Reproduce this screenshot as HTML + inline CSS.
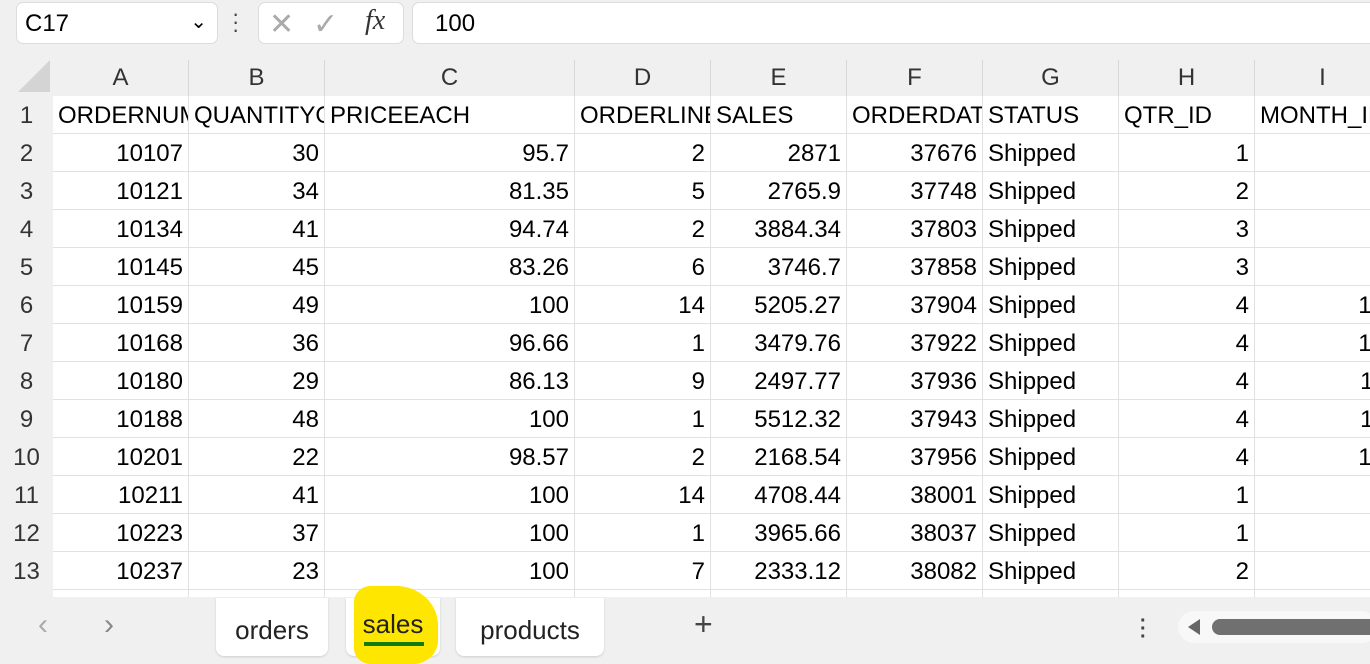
<!DOCTYPE html>
<html><head><meta charset="utf-8"><style>
body{margin:0;width:1370px;height:664px;overflow:hidden;background:#f0f0f0;font-family:"Liberation Sans","DejaVu Sans",sans-serif;position:relative}
.a{position:absolute;box-sizing:border-box}
.box{background:#fff;border:1px solid #dcdcdc;border-radius:7px}
.colh{top:60px;height:36px;font-size:24px;color:#333;text-align:center;line-height:36px;border-right:1px solid #d8d8d8;background:#f0f0f0}
.rowh{left:0;width:53px;font-size:24px;color:#333;text-align:center;line-height:40px;height:38px;background:#f0f0f0}
.c{height:38px;font-size:24px;line-height:40px;color:#000;border-right:1px solid #e1e1e1;border-bottom:1px solid #e1e1e1;background:#fff;white-space:nowrap;overflow:hidden;padding:0 5px}
.r{text-align:right}
.tab{top:598px;height:58px;background:#fff;border-radius:0 0 8px 8px;font-size:26px;color:#222;text-align:center;line-height:64px;box-shadow:0 1px 2px #ccc}
</style></head><body>
<div class="a box" style="left:16px;top:2px;width:202px;height:42px;font-size:24px;line-height:42px;padding-left:8px">C17<span style="position:absolute;right:10px;top:-2px;font-size:20px">&#8964;</span></div>
<div class="a" style="left:232px;top:10px;font-size:22px;color:#444;line-height:8px">·<br>·<br>·</div>
<div class="a box" style="left:258px;top:2px;width:146px;height:42px">
<span class="a" style="left:10px;top:4px;font-size:30px;color:#aaa">✕</span>
<span class="a" style="left:54px;top:4px;font-size:30px;color:#aaa">✓</span>
<span class="a" style="left:106px;top:2px;font-size:28px;font-style:italic;font-family:'Liberation Serif',serif;color:#333">fx</span></div>
<div class="a box" style="left:412px;top:2px;width:970px;height:42px;font-size:24px;line-height:42px;padding-left:22px">100</div>
<div class="a" style="left:18px;top:60px;width:0;height:0;border-left:32px solid transparent;border-bottom:32px solid #d4d4d4"></div>
<div id="grid"></div>
<div class="a" style="left:0;top:597px;width:1370px;height:67px;background:#f0f0f0"></div>
<div class="a" style="left:38px;top:608px;font-size:30px;color:#aaa">‹</div>
<div class="a" style="left:104px;top:608px;font-size:30px;color:#888">›</div>
<div class="a tab" style="left:216px;width:112px">orders</div>
<div class="a tab" style="left:346px;width:94px"><div class="a" style="left:8px;top:-12px;width:84px;height:78px;background:#ffe600;border-radius:20% 50% 30% 20%"></div><span style="position:relative;top:-6px">sales</span><div class="a" style="left:18px;top:44px;width:60px;height:4px;background:#107c10"></div></div>
<div class="a tab" style="left:456px;width:148px">products</div>
<div class="a" style="left:694px;top:606px;font-size:32px;color:#444">+</div>
<div class="a" style="left:1140px;top:617px;font-size:20px;line-height:8px;color:#444;font-weight:bold">·<br>·<br>·</div>
<div class="a" style="left:1178px;top:611px;width:200px;height:32px;background:#f8f8f8;border-radius:16px">
<div class="a" style="left:10px;top:8px;border-right:12px solid #666;border-top:8px solid transparent;border-bottom:8px solid transparent"></div>
<div class="a" style="left:34px;top:8px;width:180px;height:16px;background:#707070;border-radius:8px"></div></div>
<script>
const cols=["A","B","C","D","E","F","G","H","I"];
const widths=[136,136,250,136,136,136,136,136,136];
const headers=["ORDERNUMBER","QUANTITYORDERED","PRICEEACH","ORDERLINENUMBER","SALES","ORDERDATE","STATUS","QTR_ID","MONTH_ID"];
const data=[
[10107,30,95.7,2,2871,37676,"Shipped",1,2],
[10121,34,81.35,5,2765.9,37748,"Shipped",2,5],
[10134,41,94.74,2,3884.34,37803,"Shipped",3,7],
[10145,45,83.26,6,3746.7,37858,"Shipped",3,8],
[10159,49,100,14,5205.27,37904,"Shipped",4,10],
[10168,36,96.66,1,3479.76,37922,"Shipped",4,10],
[10180,29,86.13,9,2497.77,37936,"Shipped",4,11],
[10188,48,100,1,5512.32,37943,"Shipped",4,11],
[10201,22,98.57,2,2168.54,37956,"Shipped",4,12],
[10211,41,100,14,4708.44,38001,"Shipped",1,1],
[10223,37,100,1,3965.66,38037,"Shipped",1,2],
[10237,23,100,7,2333.12,38082,"Shipped",2,4]];
const g=document.getElementById('grid');
function mk(cls,l,t,w,txt){const d=document.createElement('div');d.className='a '+cls;d.style.left=l+'px';d.style.top=t+'px';d.style.width=w+'px';d.textContent=txt;g.appendChild(d);return d;}
let x=53;
cols.forEach((c,i)=>{
const h=mk('colh',x,60,widths[i],c);


x+=widths[i];});
const rows=[headers].concat(data);
rows.forEach((row,ri)=>{
const top=96+ri*38;
const rh=mk('rowh',0,top,53,String(ri+1));


let cx=53;
row.forEach((v,ci)=>{
const num=typeof v==='number';
const el=mk('c'+(ri>0&&num?' r':''),cx,top,widths[ci],String(v));
if(ri===0)el.style.padding='0 0 0 5px';


cx+=widths[ci];});
});
const last=96+13*38;
let cx=53;
widths.forEach((w,ci)=>{const el=mk('c',cx,last,w,'');el.style.height='10px';


cx+=w;});
</script>
</body></html>
